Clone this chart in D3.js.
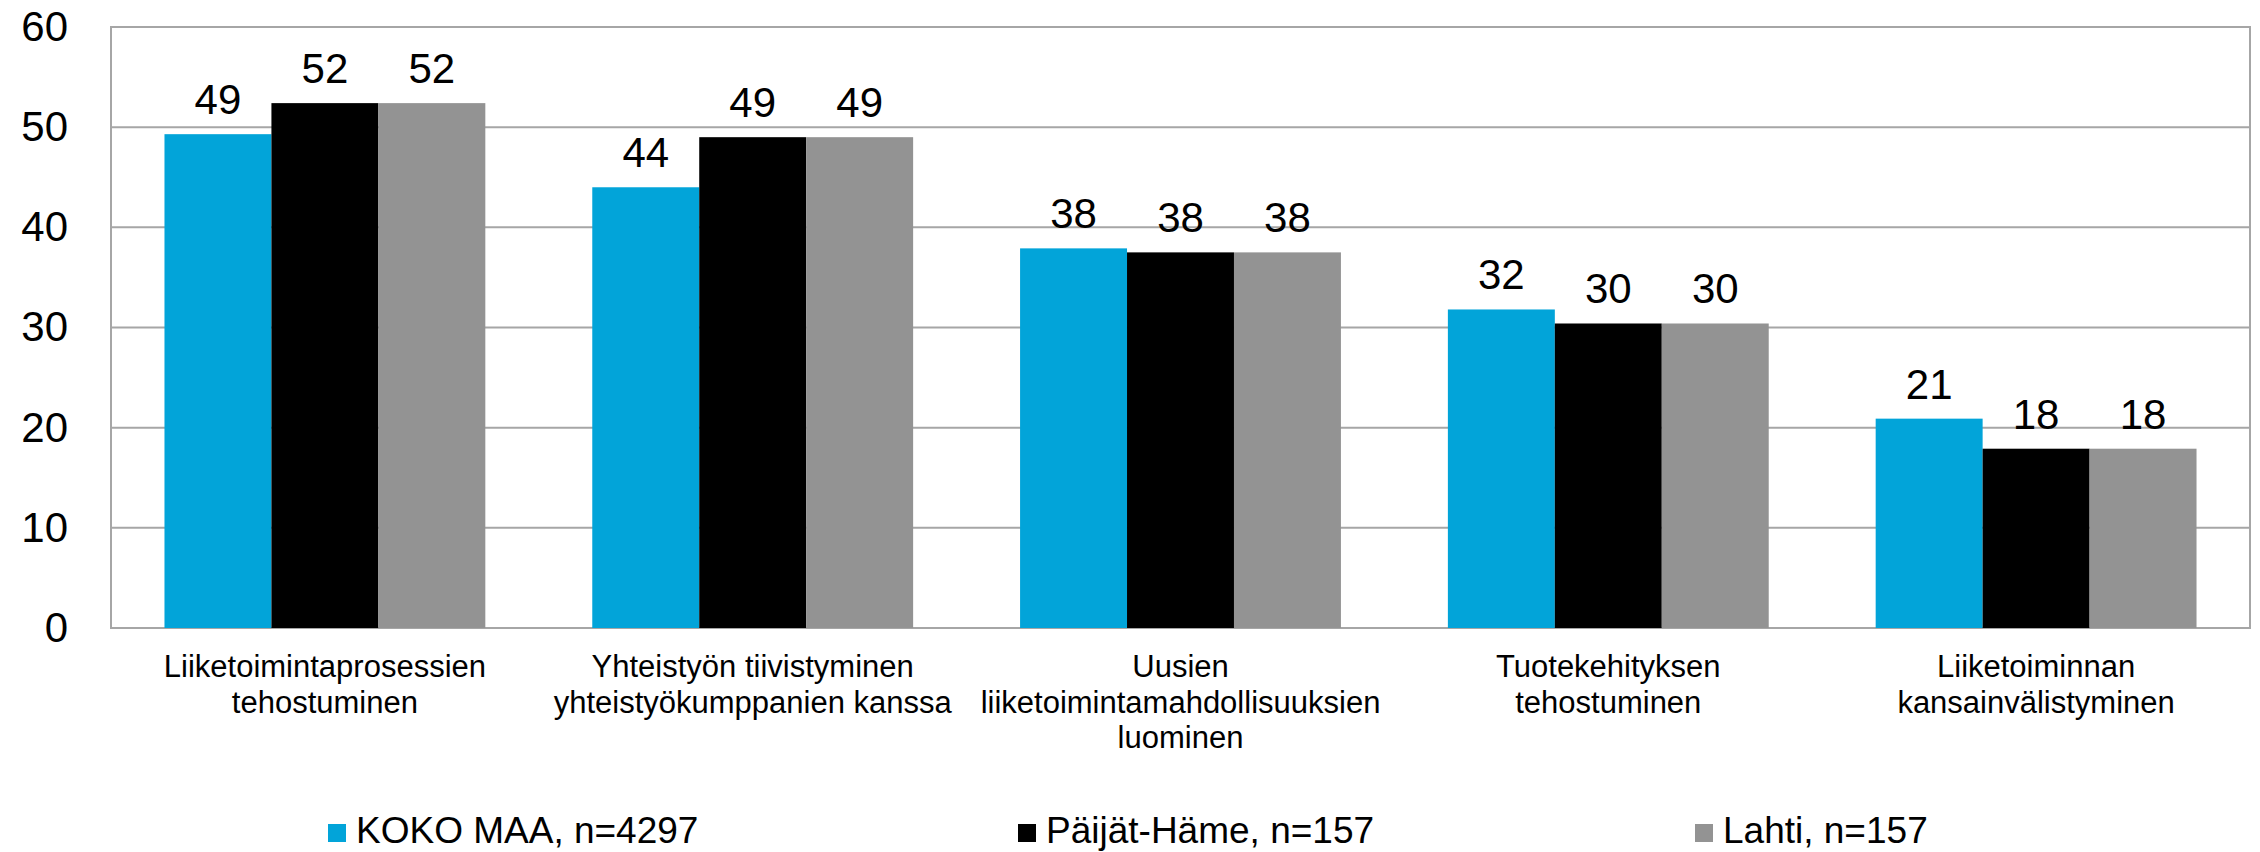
<!DOCTYPE html>
<html><head><meta charset="utf-8">
<script src="https://cdn.jsdelivr.net/npm/d3@7"></script>
<style>body{margin:0;background:#fff}svg{display:block;font-family:"Liberation Sans",Arial,sans-serif}</style>
</head><body>
<svg id="c" width="2260" height="852"></svg>
<script>
const categories = [
  ["Liiketoimintaprosessien","tehostuminen"],
  ["Yhteistyön tiivistyminen","yhteistyökumppanien kanssa"],
  ["Uusien","liiketoimintamahdollisuuksien","luominen"],
  ["Tuotekehityksen","tehostuminen"],
  ["Liiketoiminnan","kansainvälistyminen"]
];
const seriesNames = ["KOKO MAA, n=4297","Päijät-Häme, n=157","Lahti, n=157"];
const kokoMaa   = [49.3, 44.0, 37.9, 31.8, 20.9];
const paijatHame = [52.4, 49.0, 37.5, 30.4, 17.9];
const lahti      = [52.4, 49.0, 37.5, 30.4, 17.9];
const labelsKoko = ["49","44","38","32","21"];
const labelsPH   = ["52","49","38","30","18"];
const labelsLahti= ["52","49","38","30","18"];
const yTicks = [0,10,20,30,40,50,60];
const colors = ["#02A4D9","#000000","#939393"];

const series = [kokoMaa, paijatHame, lahti];
const labels = [labelsKoko, labelsPH, labelsLahti];

const svg = d3.select("#c");
const L = 111, R = 2250, T = 27, B = 628;
const x0 = d3.scaleBand().domain(d3.range(categories.length)).range([L, R]).paddingInner(0.25).paddingOuter(0.125);
const x1 = d3.scaleBand().domain(d3.range(3)).range([0, x0.bandwidth()]);
const y = d3.scaleLinear().domain([0, 60]).range([B, T]);

// gridlines
svg.append("g").selectAll("line").data(yTicks).join("line")
  .attr("x1", L).attr("x2", R).attr("y1", d => y(d)).attr("y2", d => y(d))
  .attr("stroke", "#A6A6A6").attr("stroke-width", 2);
// border
svg.append("rect").attr("x", L).attr("y", T).attr("width", R - L).attr("height", B - T)
  .attr("fill", "none").attr("stroke", "#A6A6A6").attr("stroke-width", 2);

// y axis labels
const yAxis = d3.axisLeft(y).tickValues(yTicks).tickSize(0).tickPadding(43);
const ga = svg.append("g").attr("transform", `translate(${L},0)`).call(yAxis);
ga.select(".domain").remove();
ga.selectAll("text").attr("font-size", 42).attr("fill", "#000").attr("font-family", "Liberation Sans, Arial, sans-serif");

// bars
series.forEach((vals, s) => {
  const g = svg.append("g");
  g.selectAll("rect").data(vals).join("rect")
    .attr("x", (d, i) => x0(i) + x1(s))
    .attr("y", d => y(d))
    .attr("width", x1.bandwidth())
    .attr("height", d => y(0) - y(d))
    .attr("fill", colors[s]);
  g.selectAll("text").data(vals).join("text")
    .attr("x", (d, i) => x0(i) + x1(s) + x1.bandwidth() / 2)
    .attr("y", d => y(d) - 20)
    .attr("text-anchor", "middle")
    .attr("font-size", 42)
    .text((d, i) => labels[s][i]);
});

// category labels
const cg = svg.append("g");
categories.forEach((lines, i) => {
  const t = cg.append("text").attr("text-anchor", "middle").attr("font-size", 31)
    .attr("x", x0(i) + x0.bandwidth() / 2).attr("y", 677);
  lines.forEach((ln, k) => t.append("tspan").attr("x", x0(i) + x0.bandwidth() / 2).attr("dy", k === 0 ? 0 : 35.5).text(ln));
});

// legend
const legX = [328, 1018, 1695];
const lg = svg.append("g");
seriesNames.forEach((n, s) => {
  lg.append("rect").attr("x", legX[s]).attr("y", 824).attr("width", 18).attr("height", 18).attr("fill", colors[s]);
  lg.append("text").attr("x", legX[s] + 28).attr("y", 843).attr("font-size", 37).text(n);
});
</script>
</body></html>
